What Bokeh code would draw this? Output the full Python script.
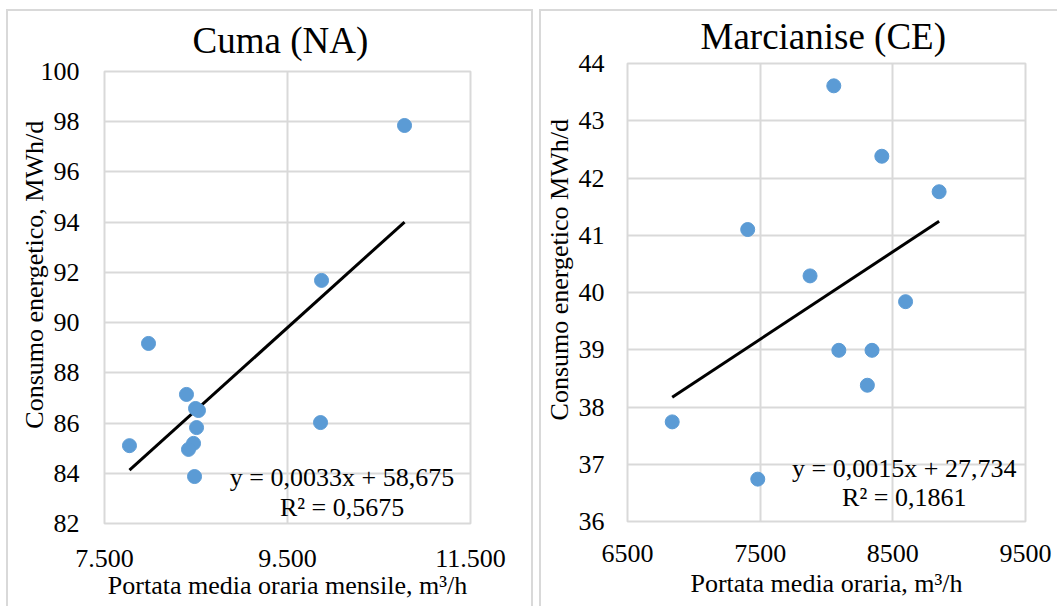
import numpy as np
from bokeh.plotting import figure
from bokeh.models import FixedTicker, Label, Range1d
from bokeh.embed import file_html
from bokeh.resources import INLINE

# ---- Cuma (NA) ----
cuma_title = "Cuma (NA)"
cuma_x = [10779, 9872, 9861, 7981, 7773, 8396, 8495, 8527, 8506, 8473, 8418, 8484]
cuma_y = [97.85, 91.68, 86.02, 89.17, 85.10, 87.14, 86.58, 86.50, 85.82, 85.19, 84.95, 83.87]
cuma_xticks = [7500, 9500, 11500]
cuma_xtick_labels = ["7.500", "9.500", "11.500"]
cuma_yticks = [82, 84, 86, 88, 90, 92, 94, 96, 98, 100]
cuma_xtitle = "Portata media oraria mensile, m³/h"
cuma_ytitle = "Consumo energetico, MWh/d"
cuma_eq = ["y = 0,0033x + 58,675", "R² = 0,5675"]

# ---- Marcianise (CE) ----
marc_title = "Marcianise (CE)"
marc_x = [8055, 8417, 8849, 7406, 7876, 8596, 8093, 8343, 8308, 6837, 7482]
marc_y = [43.61, 42.38, 41.76, 41.10, 40.29, 39.84, 38.99, 38.99, 38.38, 37.74, 36.74]
marc_xticks = [6500, 7500, 8500, 9500]
marc_xtick_labels = ["6500", "7500", "8500", "9500"]
marc_yticks = [36, 37, 38, 39, 40, 41, 42, 43, 44]
marc_xtitle = "Portata media oraria, m³/h"
marc_ytitle = "Consumo energetico MWh/d"
marc_eq = ["y = 0,0015x + 27,734", "R² = 0,1861"]

FONT = "Liberation Serif"
GRID = "#d9d9d9"
DOT = "#5b9bd5"
H = 597
PAD = "\u00a0" * 7  # lifts the rotated axis title above the frame centre


def panel(title, xs, ys, xticks, xlabels, yticks, xtitle, ytitle, eq, eq_x, eq_y,
          width, mbl, mbr, mbt, mbb, toff, tstand, xstand, xlstand, ystand, ylstand, styles):
    p = figure(width=width, height=H, output_backend="svg", toolbar_location=None,
               x_range=Range1d(xticks[0], xticks[-1]), y_range=Range1d(yticks[0], yticks[-1]),
               min_border_left=mbl, min_border_right=mbr, min_border_top=mbt,
               min_border_bottom=mbb, styles=styles)
    p.title.text = title
    p.title.text_font = FONT
    p.title.text_font_size = "37px"
    p.title.text_font_style = "normal"
    p.title.text_color = "black"
    p.title.align = "left"
    p.title.vertical_align = "top"
    p.title.offset = toff
    p.title.standoff = tstand

    p.xaxis.ticker = FixedTicker(ticks=xticks)
    p.xaxis.major_label_overrides = {t: l for t, l in zip(xticks, xlabels)}
    p.yaxis.ticker = FixedTicker(ticks=yticks)
    for ax in (p.xaxis, p.yaxis):
        ax.axis_line_color = None
        ax.major_tick_line_color = None
        ax.minor_tick_line_color = None
        ax.major_tick_in = 0
        ax.major_tick_out = 0
        ax.major_label_text_font = FONT
        ax.major_label_text_font_size = "26px"
        ax.major_label_text_color = "black"
        ax.axis_label_text_font = FONT
        ax.axis_label_text_font_size = "26px"
        ax.axis_label_text_font_style = "normal"
        ax.axis_label_text_color = "black"
    p.xaxis.major_label_standoff = xstand
    p.yaxis.major_label_standoff = ystand
    p.xaxis.axis_label = xtitle
    p.yaxis.axis_label = PAD + ytitle
    p.xaxis.axis_label_standoff = xlstand
    p.yaxis.axis_label_standoff = ylstand

    p.xgrid.grid_line_color = GRID
    p.ygrid.grid_line_color = GRID
    p.xgrid.grid_line_width = 2
    p.ygrid.grid_line_width = 2
    p.outline_line_color = GRID
    p.outline_line_width = 2

    # linear trend from the data
    k, b = np.polyfit(xs, ys, 1)
    lx = [min(xs), max(xs)]
    p.line(lx, [k * v + b for v in lx], line_color="black", line_width=3)
    p.scatter(xs, ys, size=14, fill_color=DOT, line_color=DOT)

    for txt, yy in zip(eq, eq_y):
        p.add_layout(Label(x=eq_x, y=yy, text=txt, text_align="center",
                           text_font=FONT, text_font_size="26px", text_color="black"))
    return p


bd = "2px solid #d9d9d9"
p1 = panel(cuma_title, cuma_x, cuma_y, cuma_xticks, cuma_xtick_labels, cuma_yticks,
           cuma_xtitle, cuma_ytitle, cuma_eq, 10096, [83.27, 82.06],
           527, 96, 65, 60, 85, 88, 17, 26, 1, 25, -11,
           {"position": "absolute", "left": "6px", "top": "9px",
            "border-top": bd, "border-left": bd, "border-right": bd})
p2 = panel(marc_title, marc_x, marc_y, marc_xticks, marc_xtick_labels, marc_yticks,
           marc_xtitle, marc_ytitle, marc_eq, 8586, [36.67, 36.16],
           518, 85, 34, 52, 87, 73, 9, 23, 4, 23, 2,
           {"position": "absolute", "left": "539px", "top": "9px",
            "border-top": bd, "border-left": bd})

open("out.html", "w").write(file_html([p1, p2], INLINE))
